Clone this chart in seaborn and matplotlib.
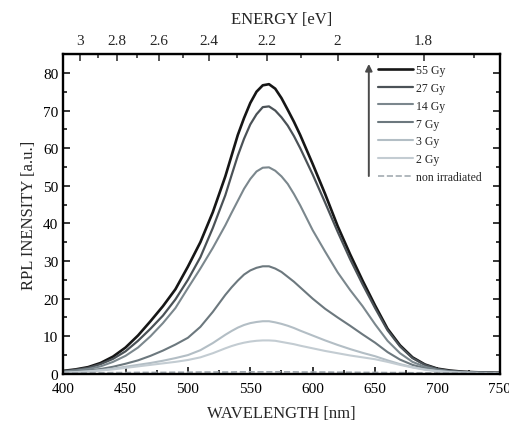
import numpy as np
import pandas as pd
import matplotlib
matplotlib.use("Agg")
import matplotlib.pyplot as plt
from matplotlib.ticker import MultipleLocator, FixedLocator
import seaborn as sns

# ---------------- data ----------------
wavelength = [400, 410, 420, 430, 440, 450, 460, 470, 480, 490, 500, 510, 520, 530,
              535, 540, 545, 550, 555, 560, 565, 570, 575, 580, 585, 590,
              600, 610, 620, 630, 640, 650, 660, 670, 680, 690, 700, 710, 720, 730, 740, 750]

gy55 = [0.8, 1.2, 1.8, 2.9, 4.6, 7.0, 10.2, 14.0, 18.0, 22.5, 28.5, 35.0, 43.0, 52.5,
        58.0, 63.5, 68.0, 72.0, 75.0, 76.7, 77.0, 75.8, 73.3, 70.2, 67.0, 63.5,
        55.8, 47.8, 39.3, 31.8, 24.8, 18.2, 12.0, 7.6, 4.4, 2.5, 1.4, 0.9, 0.6, 0.45, 0.35, 0.3]
gy27 = [0.7, 1.1, 1.6, 2.6, 4.0, 6.0, 8.8, 12.0, 15.5, 19.8, 25.0, 31.0, 38.8, 47.5,
        52.8, 58.0, 62.5, 66.3, 69.0, 70.9, 71.1, 70.0, 68.2, 66.0, 63.2, 60.0,
        53.0, 45.5, 37.8, 30.5, 23.8, 17.5, 11.6, 7.3, 4.2, 2.4, 1.3, 0.8, 0.55, 0.4, 0.3, 0.25]
gy14 = [0.6, 0.9, 1.3, 2.0, 3.2, 4.8, 7.0, 10.0, 13.5, 17.5, 22.8, 28.0, 33.5, 39.5,
        42.8, 46.0, 49.2, 51.8, 53.8, 54.8, 54.9, 54.0, 52.5, 50.5, 47.8, 44.8,
        38.2, 32.5, 27.0, 22.3, 18.0, 13.2, 8.8, 5.5, 3.2, 1.9, 1.1, 0.7, 0.5, 0.35, 0.3, 0.25]
gy7 = [0.4, 0.6, 0.9, 1.3, 1.9, 2.7, 3.6, 4.8, 6.2, 7.8, 9.6, 12.5, 16.5, 21.0,
       23.0, 24.8, 26.4, 27.5, 28.2, 28.6, 28.6, 28.0, 27.1, 25.8, 24.5, 23.0,
       20.0, 17.3, 15.0, 12.8, 10.5, 8.3, 5.8, 3.8, 2.4, 1.5, 0.9, 0.55, 0.4, 0.3, 0.25, 0.2]
gy3 = [0.3, 0.5, 0.7, 1.0, 1.4, 1.9, 2.4, 2.9, 3.5, 4.2, 5.0, 6.3, 8.2, 10.4,
       11.4, 12.3, 13.0, 13.5, 13.8, 14.0, 14.0, 13.7, 13.3, 12.8, 12.2, 11.5,
       10.2, 8.9, 7.7, 6.6, 5.6, 4.7, 3.6, 2.6, 1.8, 1.2, 0.8, 0.5, 0.35, 0.3, 0.25, 0.2]
gy2 = [0.3, 0.45, 0.65, 0.9, 1.2, 1.6, 2.0, 2.4, 2.8, 3.2, 3.7, 4.4, 5.5, 6.8,
       7.4, 7.9, 8.3, 8.6, 8.8, 8.9, 8.9, 8.8, 8.5, 8.2, 7.9, 7.5,
       6.8, 6.1, 5.5, 4.9, 4.4, 3.9, 3.2, 2.4, 1.7, 1.1, 0.7, 0.45, 0.3, 0.25, 0.2, 0.2]
non_irr = [0.2, 0.25, 0.3, 0.3, 0.35, 0.35, 0.4, 0.4, 0.4, 0.45, 0.45, 0.5, 0.5, 0.5,
           0.5, 0.55, 0.55, 0.55, 0.55, 0.55, 0.55, 0.55, 0.55, 0.55, 0.55, 0.5,
           0.5, 0.5, 0.45, 0.45, 0.4, 0.4, 0.35, 0.35, 0.3, 0.3, 0.25, 0.25, 0.2, 0.2, 0.2, 0.2]

labels = ["55 Gy", "27 Gy", "14 Gy", "7 Gy", "3 Gy", "2 Gy", "non irradiated"]
series = [gy55, gy27, gy14, gy7, gy3, gy2, non_irr]

x_ticks = [400, 450, 500, 550, 600, 650, 700, 750]
y_ticks = [0, 10, 20, 30, 40, 50, 60, 70, 80]
energy_ticks = [3.0, 2.8, 2.6, 2.4, 2.2, 2.0, 1.8]
energy_labels = ["3", "2.8", "2.6", "2.4", "2.2", "2", "1.8"]
energy_minor = [3.1, 2.9, 2.7, 2.5, 2.3, 2.1, 1.9, 1.7]

# ---------------- style ----------------
colors = ["#161616", "#4b5257", "#7b878d", "#6c787e", "#b3bec5", "#c3ccd2", "#a3abb2"]
widths = [1.9, 1.6, 1.5, 1.5, 1.5, 1.5, 1.2]
styles = ["-", "-", "-", "-", "-", "-", "--"]

sns.set_style("ticks")
plt.rcParams['font.family'] = ['Liberation Serif', 'DejaVu Serif']

fig = plt.figure(figsize=(5.09, 4.27), dpi=100)
ax = fig.add_axes([0.124, 0.122, 0.858, 0.749])

rows = []
for lab, vals in zip(labels, series):
    for w, v in zip(wavelength, vals):
        rows.append({"wl": w, "val": v, "dose": lab})
df = pd.DataFrame(rows)

for lab, c, lw, ls in zip(labels, colors, widths, styles):
    sub = df[df["dose"] == lab]
    sns.lineplot(data=sub, x="wl", y="val", ax=ax, color=c, lw=lw, ls=ls, label=lab)

ax.set_xlim(400, 750)
ax.set_ylim(0, 85)
ax.set_xticks(x_ticks)
ax.set_yticks(y_ticks)
ax.xaxis.set_minor_locator(MultipleLocator(25))
ax.yaxis.set_minor_locator(MultipleLocator(5))
ax.tick_params(which='both', direction='in', top=False, right=True, labelsize=11,
               width=1.1, colors='black')
ax.tick_params(which='major', length=5)
ax.tick_params(which='minor', length=3)
ax.tick_params(axis='x', which='major', pad=6)
for s in ax.spines.values():
    s.set_linewidth(1.7)
    s.set_color('black')

ax.set_xlabel("WAVELENGTH [nm]", fontsize=12, labelpad=7)
ax.set_ylabel("RPL INENSITY [a.u.]", fontsize=12, labelpad=4)


def to_energy(x):
    x = np.asarray(x, dtype=float)
    return 1240.0 / np.where(x == 0, 1e-9, x)


sec = ax.secondary_xaxis('top', functions=(to_energy, to_energy))
sec.set_xticks(energy_ticks)
sec.set_xticklabels(energy_labels)
sec.xaxis.set_minor_locator(FixedLocator(energy_minor))
sec.tick_params(which='both', direction='in', labelsize=11, width=1.1, pad=5)
sec.tick_params(which='major', length=5)
sec.tick_params(which='minor', length=3)
sec.set_xlabel("ENERGY [eV]", fontsize=12, labelpad=8)

leg = ax.legend(loc='upper left', bbox_to_anchor=(0.715, 0.977), frameon=False, fontsize=8.5,
                handlelength=3.0, handletextpad=0.2, labelspacing=0.5,
                borderaxespad=0, borderpad=0.2)

ax.annotate('', xy=(0.70, 0.978), xytext=(0.70, 0.61), xycoords='axes fraction',
            arrowprops=dict(arrowstyle='-|>', color='#4a4a4a', lw=1.4, mutation_scale=10))

fig.savefig("out.png", dpi=100)
